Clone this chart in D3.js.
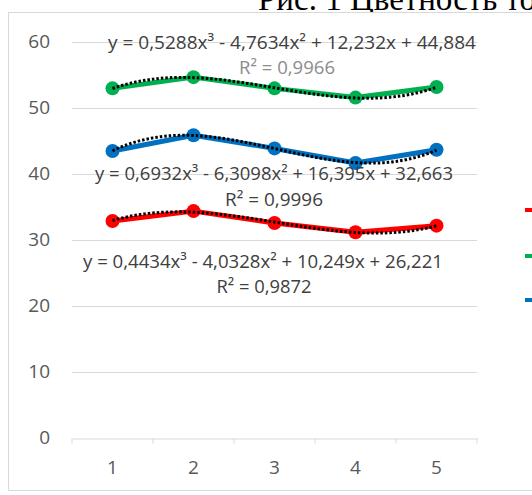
<!DOCTYPE html>
<html>
<head>
<meta charset="utf-8">
<script src="https://cdn.jsdelivr.net/npm/d3@7"></script>
<style>
  body { margin: 0; background: #fff; }
  svg { display: block; }
</style>
</head>
<body>
<div id="chart"></div>
<script>
// values
const categories = [1, 2, 3, 4, 5];
const redValues = [32.8, 34.3, 32.5, 31.1, 32.1];
const greenValues = [52.9, 54.6, 52.9, 51.5, 53.1];
const blueValues = [43.4, 45.8, 43.8, 41.6, 43.6];
const yTicks = [0, 10, 20, 30, 40, 50, 60];

// trendline coefficients (a3, a2, a1, a0) as printed on the chart
const redCoef = [0.4434, -4.0328, 10.249, 26.221];
const greenCoef = [0.5288, -4.7634, 12.232, 44.884];
const blueCoef = [0.6932, -6.3098, 16.395, 32.663];

const eqLabels = [
  "y = 0,4434x³ - 4,0328x² + 10,249x + 26,221",
  "y = 0,5288x³ - 4,7634x² + 12,232x + 44,884",
  "y = 0,6932x³ - 6,3098x² + 16,395x + 32,663",
];
const r2Labels = ["R² = 0,9872", "R² = 0,9966", "R² = 0,9996"];

const series = [
  { values: redValues, coef: redCoef, color: "#ff0000" },
  { values: greenValues, coef: greenCoef, color: "#00b050" },
  { values: blueValues, coef: blueCoef, color: "#0070c0" },
];

// where the labels sit (pixels)
const labelPos = [
  { eq: [263, 268, 360], r2: [264, 293, 95], r2Fill: "#404040" },
  { eq: [292, 49, 368], r2: [287, 74, 96], r2Fill: "#8c8c8c" },
  { eq: [274, 180, 358], r2: [274, 206, 98], r2Fill: "#404040" },
];
const legendY = [210, 256, 300];

const width = 532, height = 495;
const svg = d3.select("#chart").append("svg")
  .attr("width", width).attr("height", height);

// title (cut off by the page edges, as in the picture)
svg.append("text")
  .attr("x", 258).attr("y", 10)
  .attr("font-family", "Liberation Serif, Times New Roman, serif")
  .attr("font-size", 33)
  .attr("fill", "#000")
  .text("Рис. 1 Цветность то");

// chart frame
svg.append("rect")
  .attr("x", 8.5).attr("y", 12.5)
  .attr("width", 540).attr("height", 478)
  .attr("fill", "#fff")
  .attr("stroke", "#d9d9d9");

const xScale = d3.scaleBand().domain(categories).range([72, 477]).padding(0);
const yScale = d3.scaleLinear().domain([0, 60]).range([437.5, 41.5]);
const cx = (c) => xScale(c) + xScale.bandwidth() / 2;

// gridlines
svg.append("g")
  .selectAll("line")
  .data(yTicks.filter((d) => d > 0))
  .join("line")
  .attr("x1", 72).attr("x2", 477)
  .attr("y1", (d) => Math.round(yScale(d)) + 0.5)
  .attr("y2", (d) => Math.round(yScale(d)) + 0.5)
  .attr("stroke", "#d9d9d9")
  .attr("stroke-width", 1.2);

// y axis labels
const gy = svg.append("g").attr("transform", "translate(72,0)")
  .call(d3.axisLeft(yScale).tickValues(yTicks).tickSize(0).tickPadding(22));
gy.select(".domain").remove();
gy.selectAll("text")
  .attr("font-family", "Open Sans, sans-serif")
  .attr("font-size", 19)
  .attr("fill", "#595959");

// x axis
const gx = svg.append("g").attr("transform", `translate(0,${Math.round(yScale(0)) + 0.5})`)
  .call(d3.axisBottom(xScale).tickSize(0).tickPadding(22));
gx.select(".domain").attr("stroke", "#d9d9d9").attr("stroke-width", 1.2);
gx.selectAll("text")
  .attr("font-family", "Open Sans, sans-serif")
  .attr("font-size", 19)
  .attr("fill", "#595959");
gx.selectAll(".bound")
  .data(d3.range(categories.length + 1))
  .join("line")
  .attr("class", "bound")
  .attr("x1", (i) => 72 + i * xScale.bandwidth())
  .attr("x2", (i) => 72 + i * xScale.bandwidth())
  .attr("y1", 0).attr("y2", 5)
  .attr("stroke", "#d9d9d9");

const line = d3.line()
  .x((d, i) => cx(categories[i]))
  .y((d) => yScale(d));

const xLin = d3.scaleLinear()
  .domain([categories[0], categories[categories.length - 1]])
  .range([cx(categories[0]), cx(categories[categories.length - 1])]);
const poly = (c, x) => c[0] * x ** 3 + c[1] * x ** 2 + c[2] * x + c[3];
const trendLine = d3.line()
  .x((d) => xLin(d[0]))
  .y((d) => yScale(d[1]));

series.forEach((s) => {
  const g = svg.append("g");
  g.append("path")
    .datum(s.values)
    .attr("d", line)
    .attr("fill", "none")
    .attr("stroke", s.color)
    .attr("stroke-width", 5)
    .attr("stroke-linejoin", "round");
  g.selectAll("circle")
    .data(s.values)
    .join("circle")
    .attr("cx", (d, i) => cx(categories[i]))
    .attr("cy", (d) => yScale(d))
    .attr("r", 7)
    .attr("fill", s.color);
  const pts = d3.range(1, 5.001, 0.05).map((x) => [x, poly(s.coef, x)]);
  g.append("path")
    .datum(pts)
    .attr("d", trendLine)
    .attr("fill", "none")
    .attr("stroke", "#000")
    .attr("stroke-width", 3)
    .attr("stroke-dasharray", "2.5 2");
});

// equation and R² labels
series.forEach((s, i) => {
  const p = labelPos[i];
  svg.append("text")
    .attr("x", p.eq[0]).attr("y", p.eq[1])
    .attr("text-anchor", "middle")
    .attr("textLength", p.eq[2])
    .attr("lengthAdjust", "spacingAndGlyphs")
    .attr("font-family", "Open Sans, sans-serif")
    .attr("font-size", 18.5)
    .attr("fill", "#404040")
    .text(eqLabels[i]);
  svg.append("text")
    .attr("x", p.r2[0]).attr("y", p.r2[1])
    .attr("text-anchor", "middle")
    .attr("textLength", p.r2[2])
    .attr("lengthAdjust", "spacingAndGlyphs")
    .attr("font-family", "Open Sans, sans-serif")
    .attr("font-size", 18.5)
    .attr("fill", p.r2Fill)
    .text(r2Labels[i]);
});

// legend keys, cut off by the right edge
svg.append("g")
  .selectAll("line")
  .data(series)
  .join("line")
  .attr("x1", 525).attr("x2", 540)
  .attr("y1", (d, i) => legendY[i])
  .attr("y2", (d, i) => legendY[i])
  .attr("stroke", (d) => d.color)
  .attr("stroke-width", 4);
</script>
</body>
</html>
